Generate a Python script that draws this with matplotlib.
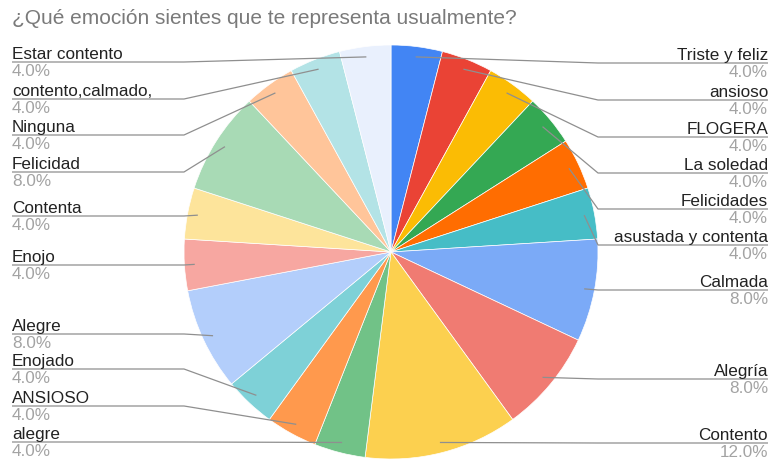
import numpy as np
import matplotlib.pyplot as plt

plt.rcParams['font.family'] = ['Liberation Sans', 'DejaVu Sans']

W, H = 773, 462

emociones = ['Triste y feliz', 'ansioso', 'FLOGERA', 'La soledad', 'Felicidades',
             'asustada y contenta', 'Calmada', 'Alegría', 'Contento', 'alegre',
             'ANSIOSO', 'Enojado', 'Alegre', 'Enojo', 'Contenta', 'Felicidad',
             'Ninguna', 'contento,calmado,', 'Estar contento']
respuestas = [1, 1, 1, 1, 1, 1, 2, 2, 3, 1, 1, 1, 2, 1, 1, 2, 1, 1, 1]
colores = ['#4285F4', '#EA4335', '#FBBC04', '#34A853', '#FF6D01', '#46BDC6',
           '#7BAAF7', '#F07B72', '#FCD04F', '#71C287', '#FF994D', '#7ED1D7',
           '#B3CEFB', '#F7A7A1', '#FDE49B', '#A8DAB5', '#FFC59A', '#B3E3E6',
           '#E9F0FD']

# y (pixels from top) of the underline under each label
linea_y = [63, 100, 137, 173, 209, 245, 290, 379, 443,
           442, 406, 369, 334, 265, 216, 172, 135, 99, 62]

cx, cy, R = 391, 252, 207

fig = plt.figure(figsize=(W / 100, H / 100), dpi=100)
ax = fig.add_axes([0, 0, 1, 1])

wedges, _ = ax.pie(respuestas, colors=colores, startangle=90, counterclock=False,
                   center=(cx, H - cy), radius=R,
                   wedgeprops=dict(edgecolor='white', linewidth=0.5))
ax.set_xlim(0, W)
ax.set_ylim(0, H)
ax.set_aspect('auto')
ax.axis('off')

total = sum(respuestas)
for w, nombre, n, ly in zip(wedges, emociones, respuestas, linea_y):
    ang = np.deg2rad((w.theta1 + w.theta2) / 2)
    px = cx + 0.95 * R * np.cos(ang)
    py = (H - cy) + 0.95 * R * np.sin(ang)
    derecha = np.cos(ang) > 0
    yl = H - ly
    if derecha:
        codo, fin, ha, xt = cx + R, 768, 'right', 768
    else:
        codo, fin, ha, xt = cx - R, 12, 'left', 12
    ax.plot([px, codo, fin], [py, yl, yl], color='#8f8f8f', lw=0.9,
            solid_capstyle='butt', zorder=5)
    ax.text(xt, yl + 3, nombre, ha=ha, va='baseline', fontsize=12.3,
            color='#222222', zorder=6)
    ax.text(xt, yl - 14, '%.1f%%' % (100 * n / total), ha=ha, va='baseline',
            fontsize=12.3, color='#a3a3a3', zorder=6)

fig.text(12 / W, 1 - 24 / H, '¿Qué emoción sientes que te representa usualmente?',
         ha='left', va='baseline', fontsize=15, color='#7a7a7a')

fig.savefig('out.png', dpi=100)
